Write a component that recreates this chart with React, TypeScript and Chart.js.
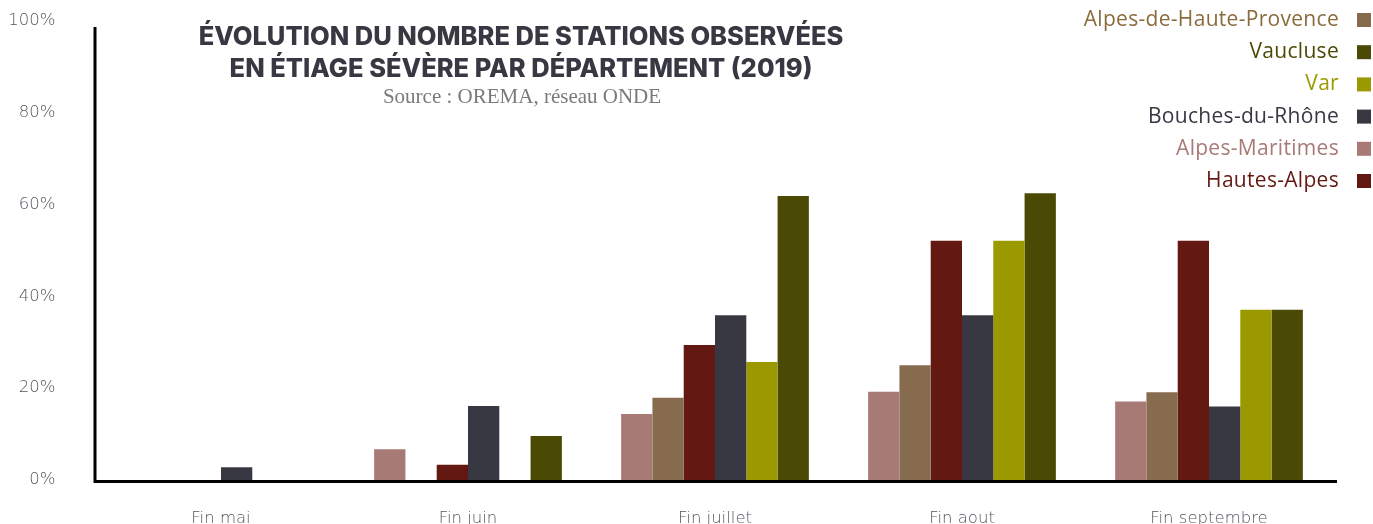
import React, { useEffect, useRef } from "react";
import { Chart, registerables } from "chart.js";

Chart.register(...registerables);

const categories = ["Fin mai", "Fin juin", "Fin juillet", "Fin aout", "Fin septembre"];
const alpesMaritimes = [0, 6.7, 14.4, 19.2, 17.1];
const alpesHauteProvence = [0, 0, 17.9, 25.0, 19.1];
const hautesAlpes = [0, 3.3, 29.4, 52.1, 52.1];
const bouchesDuRhone = [2.8, 16.1, 35.9, 35.9, 16.0];
const varDep = [0, 0, 25.7, 52.1, 37.1];
const vaucluse = [0, 9.6, 61.9, 62.5, 37.1];
const yTicks = [0, 20, 40, 60, 80, 100];

const titleLines = [
  "ÉVOLUTION DU NOMBRE DE STATIONS OBSERVÉES",
  "EN ÉTIAGE SÉVÈRE PAR DÉPARTEMENT (2019)",
];
const sourceText = "Source : OREMA, réseau ONDE";

const legendItems = [
  { label: "Alpes-de-Haute-Provence", text: "#8a6c3c", box: "#866b4e" },
  { label: "Vaucluse", text: "#4b4a05", box: "#4b4a05" },
  { label: "Var", text: "#9a9a00", box: "#9a9a00" },
  { label: "Bouches-du-Rhône", text: "#383843", box: "#383843" },
  { label: "Alpes-Maritimes", text: "#a87a76", box: "#a87a76" },
  { label: "Hautes-Alpes", text: "#641812", box: "#641812" },
];

const decorPlugin = {
  id: "decor",
  afterDraw(chart: any) {
    const ctx = chart.ctx;
    const area = chart.chartArea;
    ctx.save();
    ctx.strokeStyle = "#000";
    ctx.lineWidth = 3;
    ctx.beginPath();
    ctx.moveTo(95, 27);
    ctx.lineTo(95, area.bottom + 1.5);
    ctx.moveTo(93.5, area.bottom + 1.5);
    ctx.lineTo(1337, area.bottom + 1.5);
    ctx.stroke();
    ctx.fillStyle = "#383843";
    ctx.font = "800 25.5px Inter, 'Open Sans', sans-serif";
    ctx.textAlign = "center";
    ctx.textBaseline = "middle";
    ctx.fillText(titleLines[0], 521, 37);
    ctx.fillText(titleLines[1], 521, 69);
    ctx.fillStyle = "#7a7a7a";
    ctx.font = "21px 'Liberation Serif', 'DejaVu Serif', serif";
    ctx.fillText(sourceText, 522, 97);
    ctx.font = "21px 'Open Sans', Lato, sans-serif";
    ctx.textAlign = "right";
    try {
      (ctx as any).letterSpacing = "0.3px";
    } catch (e) {}
    legendItems.forEach((it, i) => {
      const y = 20 + i * 32.2;
      ctx.fillStyle = it.text;
      ctx.fillText(it.label, 1339, y);
      ctx.fillStyle = it.box;
      ctx.fillRect(1357, y - 7, 14, 14);
    });
    ctx.restore();
  },
};

export default function App() {
  const ref = useRef<HTMLCanvasElement>(null);
  useEffect(() => {
    if (!ref.current) return;
    const mk = (label: string, data: number[], color: string) => ({
      label,
      data,
      backgroundColor: color,
      borderWidth: 0,
      categoryPercentage: 0.76,
      barPercentage: 1.0,
    });
    const tickFont = { family: "'DejaVu Sans', 'Open Sans', sans-serif", size: 16.5, weight: "200" as any };
    const chart = new Chart(ref.current, {
      type: "bar",
      data: {
        labels: categories,
        datasets: [
          mk("Alpes-Maritimes", alpesMaritimes, "#a87a76"),
          mk("Alpes-de-Haute-Provence", alpesHauteProvence, "#866b4e"),
          mk("Hautes-Alpes", hautesAlpes, "#641812"),
          mk("Bouches-du-Rhône", bouchesDuRhone, "#383843"),
          mk("Var", varDep, "#9a9a00"),
          mk("Vaucluse", vaucluse, "#4b4a05"),
        ],
      },
      options: {
        animation: false,
        responsive: false,
        maintainAspectRatio: false,
        layout: { padding: { left: 0, right: 40.5, top: 21, bottom: 0 } },
        plugins: {
          legend: { display: false },
          title: { display: false },
          tooltip: { enabled: false },
        },
        scales: {
          x: {
            grid: { display: false, drawTicks: false },
            border: { display: false },
            ticks: {
              color: "#55555f",
              font: tickFont,
              padding: 29,
              maxRotation: 0,
              autoSkip: false,
            },
            afterFit(scale: any) {
              scale.height = 44;
              scale.paddingLeft = 0;
              scale.paddingRight = 0;
            },
          },
          y: {
            min: 0,
            max: 100,
            grid: { display: false, drawTicks: false },
            border: { display: false },
            afterBuildTicks(scale: any) {
              scale.ticks = yTicks.map((v) => ({ value: v }));
            },
            ticks: {
              color: "#55555f",
              font: tickFont,
              padding: 42,
              callback: (v: any) => v + "%",
            },
            afterFit(scale: any) {
              scale.width = 97.5;
              scale.paddingTop = 0;
              scale.paddingBottom = 0;
            },
          },
        },
      },
      plugins: [decorPlugin],
    });
    return () => chart.destroy();
  }, []);
  return (
    <div style={{ position: "absolute", left: 0, top: 0, width: 1373, height: 524, background: "#fff" }}>
      <canvas ref={ref} width={1373} height={524} style={{ display: "block" }} />
    </div>
  );
}
